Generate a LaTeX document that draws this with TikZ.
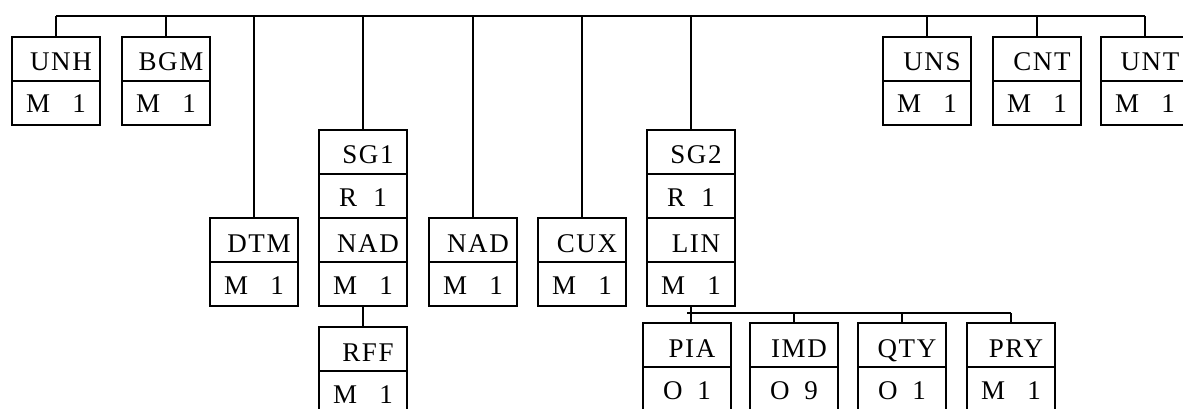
\documentclass[tikz,border=0pt]{standalone}
\usepackage{fontspec}
\setmainfont{Liberation Serif}
\newfontfamily\codefont[LetterSpace=6]{Liberation Serif}
\newcommand\lab{\fontsize{27}{32}\selectfont}

% one cell holding a segment code
\newcommand\codecell[3]{%
  \node[box,anchor=north west] (#1) at (#2) {};
  \node[code,font=\codefont\lab] (#1t) at ([xshift=5pt,yshift=10pt]#1.south) {#3};}
% one cell holding status letter and repeat count
\newcommand\countcell[5]{%
  \node[box,anchor=north west] (#1) at (#2) {};
  \node[code,anchor=base west] (#1l) at ([xshift=#5,yshift=12pt]#1.south west) {#3};
  \node[code,anchor=base east] (#1d) at ([xshift=-#5,yshift=12pt]#1.south east) {#4};}
% two-cell segment box: code over status and count
\newcommand\segbox[3]{%
  \codecell{#1}{#2}{#3}
  \countcell{#1m}{#1.south west}{M}{1}{14pt}}
\newcommand\segboxo[5]{%
  \codecell{#1}{#2}{#3}
  \countcell{#1m}{#1.south west}{#4}{#5}{20pt}}

\begin{document}
\begin{tikzpicture}[x=1pt,y=-1pt,
  box/.style={draw,line width=1.8pt,minimum width=88pt,minimum height=44pt,
    inner sep=0pt,outer sep=0pt},
  code/.style={font=\lab,inner sep=0pt,anchor=base},
  link/.style={line width=1.8pt}]
\useasboundingbox (0,0) rectangle (1183,409);
\clip (0,0) rectangle (1183,409);

% first level segments
\segbox{unh}{12,37}{UNH}
\segbox{bgm}{122,37}{BGM}
\segbox{dtm}{210,218}{DTM}
% segment group 1
\codecell{sg1}{319,130}{SG1}
\countcell{sg1r}{sg1.south west}{R}{1}{20pt}
\codecell{sg1n}{sg1r.south west}{NAD}
\countcell{sg1m}{sg1n.south west}{M}{1}{14pt}
\segbox{rff}{319,327}{RFF}
\segbox{nad}{429,218}{NAD}
\segbox{cux}{538,218}{CUX}
% segment group 2
\codecell{sg2}{647,130}{SG2}
\countcell{sg2r}{sg2.south west}{R}{1}{20pt}
\codecell{sg2n}{sg2r.south west}{LIN}
\countcell{sg2m}{sg2n.south west}{M}{1}{14pt}
\segboxo{pia}{643,323}{PIA}{O}{1}
\segboxo{imd}{750,323}{IMD}{O}{9}
\segboxo{qty}{858,323}{QTY}{O}{1}
\segbox{pry}{967,323}{PRY}
% trailing segments
\segbox{uns}{883,37}{UNS}
\segbox{cnt}{993,37}{CNT}
\segbox{unt}{1101,37}{UNT}

% message level bus
\coordinate (bus) at (0,16);
\draw[link] (unh.north |- bus) -- (unt.north |- bus);
\foreach \n in {unh,bgm,dtm,sg1,nad,cux,sg2,uns,cnt,unt}
  \draw[link] (\n.north) -- (\n.north |- bus);

% group 1 child
\draw[link] (sg1m.south) -- (rff.north);

% group 2 children
\coordinate (bus2) at (0,313);
\draw[link] (sg2m.south) -- (sg2m.south |- pia.north);
\draw[link] ([xshift=-4pt]sg2m.south |- bus2) -- (pry.north |- bus2);
\foreach \n in {imd,qty,pry}
  \draw[link] (\n.north) -- (\n.north |- bus2);
\end{tikzpicture}
\end{document}
